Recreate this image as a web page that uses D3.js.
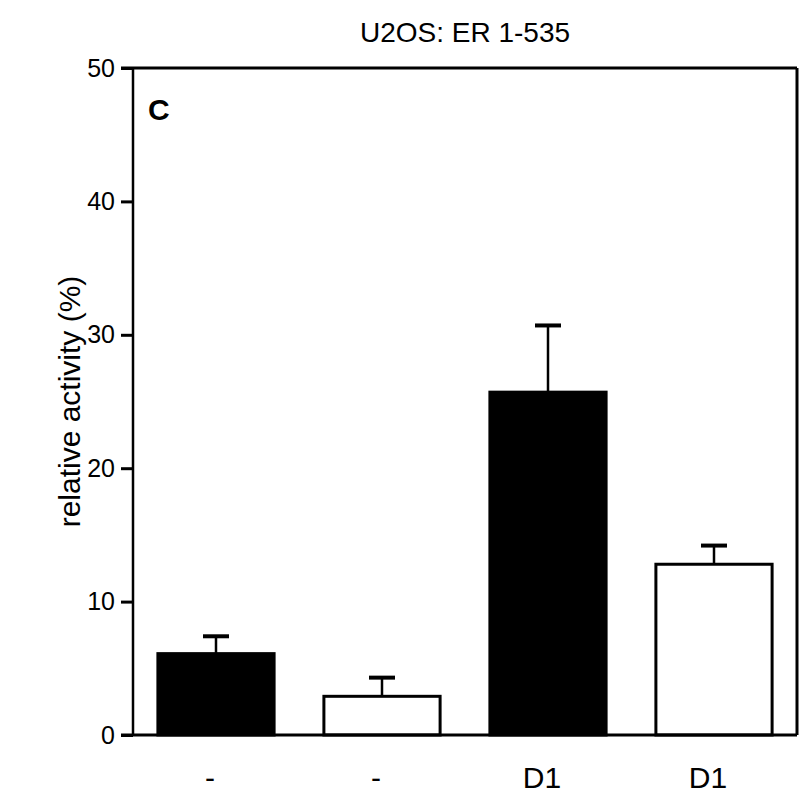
<!DOCTYPE html>
<html>
<head>
<meta charset="utf-8">
<script src="https://cdn.jsdelivr.net/npm/d3@7"></script>
<style>
  body { margin: 0; background: #fff; }
  text { font-family: "Liberation Sans", Arial, sans-serif; fill: #000; }
</style>
</head>
<body>
<svg width="800" height="795"></svg>
<script>
var categories = ['-', '-', 'D1', 'D1'];
var values = [6.1, 2.9, 25.7, 12.8];
var errors = [1.3, 1.4, 5.0, 1.4];
var fills = ['#000', '#fff', '#000', '#fff'];
var yTicks = [0, 10, 20, 30, 40, 50];

var svg = d3.select('svg');
var plotLeft = 133, plotRight = 797, plotTop = 68, plotBottom = 735;

var x = d3.scaleBand()
  .domain(d3.range(categories.length))
  .range([plotLeft, plotRight])
  .paddingInner(0.3)
  .paddingOuter(0.15);

var y = d3.scaleLinear().domain([0, 50]).range([plotBottom, plotTop]);

// y axis
var yAxis = svg.append('g')
  .attr('transform', 'translate(' + plotLeft + ',0)')
  .call(d3.axisLeft(y).tickValues(yTicks).tickSize(12).tickPadding(6));
yAxis.select('.domain').remove();
yAxis.selectAll('line').attr('stroke', '#000').attr('stroke-width', 3);
yAxis.selectAll('text').style('font-size', '25px');

// frame: left, top, right
svg.append('line').attr('x1', plotLeft).attr('x2', plotLeft).attr('y1', plotTop).attr('y2', plotBottom)
  .attr('stroke', '#000').attr('stroke-width', 2.5);
svg.append('line').attr('x1', plotLeft - 12).attr('x2', plotRight).attr('y1', plotTop).attr('y2', plotTop)
  .attr('stroke', '#000').attr('stroke-width', 3);
svg.append('line').attr('x1', plotRight).attr('x2', plotRight).attr('y1', plotTop).attr('y2', plotBottom)
  .attr('stroke', '#000').attr('stroke-width', 3);

// error bars (upper only)
var idx = d3.range(values.length);
svg.selectAll('.err').data(idx).enter().append('line')
  .attr('x1', function (i) { return x(i) + x.bandwidth() / 2; })
  .attr('x2', function (i) { return x(i) + x.bandwidth() / 2; })
  .attr('y1', function (i) { return y(values[i]); })
  .attr('y2', function (i) { return y(values[i] + errors[i]); })
  .attr('stroke', '#000').attr('stroke-width', 2.5);
svg.selectAll('.cap').data(idx).enter().append('line')
  .attr('x1', function (i) { return x(i) + x.bandwidth() / 2 - 13; })
  .attr('x2', function (i) { return x(i) + x.bandwidth() / 2 + 13; })
  .attr('y1', function (i) { return y(values[i] + errors[i]); })
  .attr('y2', function (i) { return y(values[i] + errors[i]); })
  .attr('stroke', '#000').attr('stroke-width', 4);

// bars
svg.selectAll('.bar').data(idx).enter().append('rect')
  .attr('x', function (i) { return x(i); })
  .attr('width', x.bandwidth())
  .attr('y', function (i) { return y(values[i]); })
  .attr('height', function (i) { return y(0) - y(values[i]); })
  .attr('fill', function (i) { return fills[i]; })
  .attr('stroke', '#000').attr('stroke-width', 3);

// baseline
svg.append('line').attr('x1', plotLeft - 12).attr('x2', plotRight).attr('y1', plotBottom).attr('y2', plotBottom)
  .attr('stroke', '#000').attr('stroke-width', 3);

// category labels
svg.selectAll('.cat').data(idx).enter().append('text')
  .attr('x', function (i) { return x(i) + x.bandwidth() / 2 - 6; })
  .attr('y', 788)
  .attr('text-anchor', 'middle')
  .style('font-size', '30px')
  .text(function (i) { return categories[i]; });

// titles
svg.append('text').attr('x', 465).attr('y', 42).attr('text-anchor', 'middle')
  .style('font-size', '28px').text('U2OS: ER 1-535');
svg.append('text').attr('x', 148).attr('y', 120)
  .style('font-size', '30px').style('font-weight', 'bold').text('C');
svg.append('text')
  .attr('transform', 'translate(80,' + (plotTop + plotBottom) / 2 + ') rotate(-90)')
  .attr('text-anchor', 'middle')
  .style('font-size', '30px')
  .text('relative activity (%)');
</script>
</body>
</html>
